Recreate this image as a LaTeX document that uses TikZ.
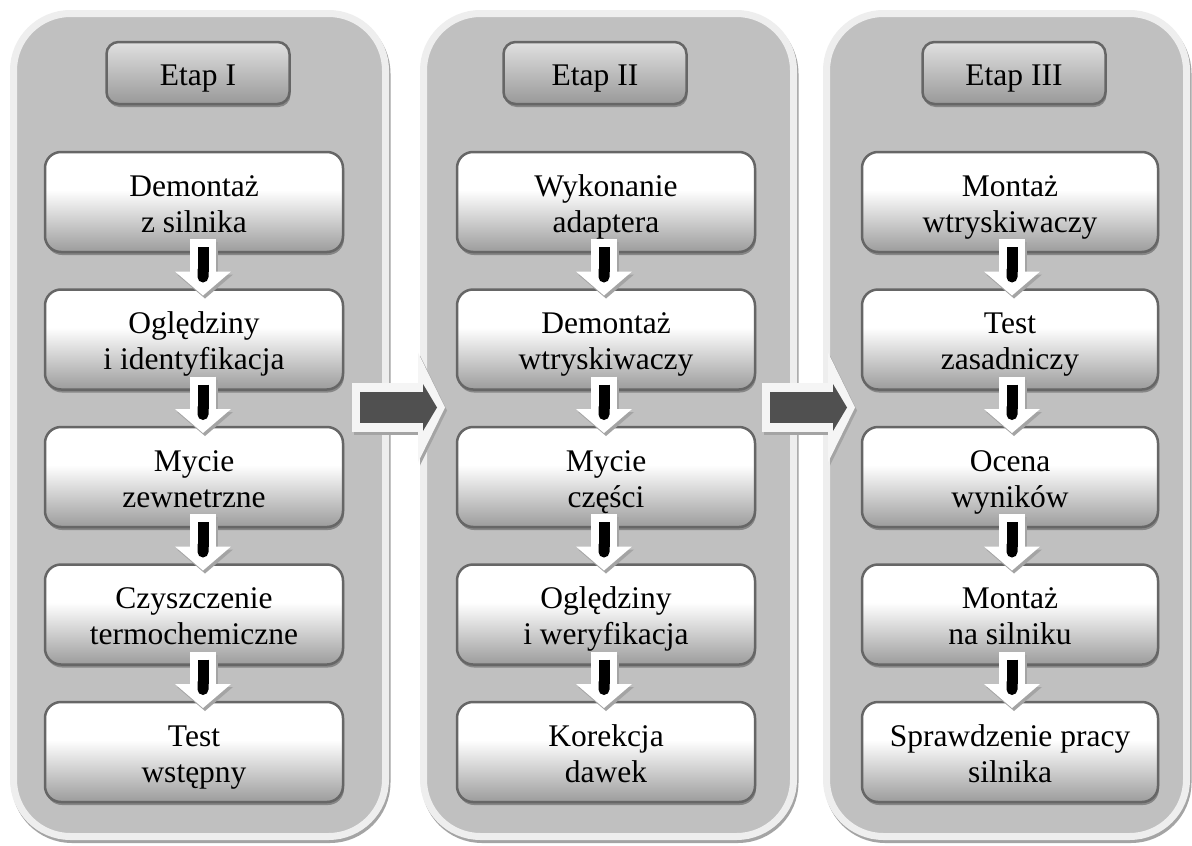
\documentclass[tikz,border=0pt]{standalone}
\usepackage{fontspec}
\setmainfont{Liberation Serif}
\usetikzlibrary{arrows.meta,shadows,calc}
\definecolor{panelc}{HTML}{C0C0C0}
\definecolor{rimc}{HTML}{EEEEEE}
\definecolor{shadc}{HTML}{A4A4A4}
\definecolor{boxbot}{HTML}{9C9C9C}
\definecolor{boxedge}{HTML}{666666}
\definecolor{hdtop}{HTML}{E0E0E0}
\definecolor{hdbot}{HTML}{999999}
\definecolor{arrdark}{HTML}{505050}
\pgfdeclareverticalshading{boxshade}{100bp}{color(0bp)=(boxbot); color(25bp)=(boxbot); color(56bp)=(white); color(100bp)=(white)}
\pgfdeclareverticalshading{hdshade}{100bp}{color(0bp)=(hdbot); color(25bp)=(hdbot); color(75bp)=(hdtop); color(100bp)=(hdtop)}
\newcommand\twol[2]{\rule{0pt}{32pt}#1\\#2\rule[-8pt]{0pt}{8pt}}
\newcommand\hdt[1]{\rule{0pt}{31pt}#1\rule[-7pt]{0pt}{7pt}}
\newcommand\downarr[3]{%
  \draw[downshadow] ($(#1.south)+(#3+2,-10)$) -- ($(#2.north)+(#3+2,9)$);
  \draw[downwhite] ($(#1.south)+(#3,-13)$) -- ($(#2.north)+(#3,6)$);
  \draw[downbar] ($(#1.south)+(#3,-5)$) -- ($(#2.north)+(#3,-7)$);
}
\begin{document}
\begin{tikzpicture}[x=1pt,y=-1pt,font=\fontsize{31.5}{36}\selectfont,
  panel/.style={rectangle, rounded corners=57pt, draw=rimc, line width=7pt, fill=panelc,
    outer sep=0pt, inner sep=0pt,
    preaction={draw=shadc, line width=7pt, transform canvas={xshift=1.5pt,yshift=-3pt}}},
  stepbox/.style={rectangle, rounded corners=16pt, draw=boxedge, line width=2.5pt,
    shading=boxshade, minimum width=298pt, minimum height=100pt, inner sep=0pt,
    outer sep=0pt, align=center,
    drop shadow={shadow xshift=1pt, shadow yshift=-3pt, fill=black, opacity=0.3}},
  header/.style={rectangle, rounded corners=12pt, draw=boxedge, line width=2.5pt,
    shading=hdshade, minimum width=183pt, minimum height=62pt, inner sep=0pt,
    outer sep=0pt,
    drop shadow={shadow xshift=1pt, shadow yshift=-3pt, fill=black, opacity=0.3}},
  downshadow/.style={draw=shadc, line width=26pt, -{Triangle[width=56pt,length=24pt,line width=0pt]}},
  downwhite/.style={draw=white, line width=26pt, -{Triangle[width=56pt,length=24pt,line width=0pt]}},
  downbar/.style={draw=black, line width=11pt, -{Round Cap}},
  bigshadow/.style={draw=shadc, line width=49pt, -{Triangle[width=110pt,length=27pt,line width=0pt]}},
  bigwhite/.style={draw=white!96!black, line width=49pt, -{Triangle[width=110pt,length=27pt,line width=0pt]}},
  bigdark/.style={draw=arrdark, line width=31pt, -{Triangle[width=47pt,length=14pt,line width=0pt]}}
]
\fill[white] (0,0) rectangle (1192,846);
\useasboundingbox (0,0) rectangle (1192,846);

% panels
\node[panel, minimum width=372pt, minimum height=823pt] (p1) at (199.5,425) {};
\node[panel, minimum width=370pt, minimum height=823pt] (p2) at (608.5,425) {};
\node[panel, minimum width=360pt, minimum height=823pt] (p3) at (1006.5,425) {};

% headers
\node[header] (h1) at (198,73) {\hdt{Etap I}};
\node[header] (h2) at (595,73) {\hdt{Etap II}};
\node[header] (h3) at (1014,73) {\hdt{Etap III}};

% panel 1
\node[stepbox] (a1) at (194,202)   {\twol{Demontaż}{z silnika}};
\node[stepbox] (a2) at (194,339.5) {\twol{Oględziny}{i identyfikacja}};
\node[stepbox] (a3) at (194,477)   {\twol{Mycie}{zewnetrzne}};
\node[stepbox] (a4) at (194,614.5) {\twol{Czyszczenie}{termochemiczne}};
\node[stepbox] (a5) at (194,752)   {\twol{Test}{wstępny}};

% panel 2
\node[stepbox] (b1) at (606,202)   {\twol{Wykonanie}{adaptera}};
\node[stepbox] (b2) at (606,339.5) {\twol{Demontaż}{wtryskiwaczy}};
\node[stepbox] (b3) at (606,477)   {\twol{Mycie}{części}};
\node[stepbox] (b4) at (606,614.5) {\twol{Oględziny}{i weryfikacja}};
\node[stepbox] (b5) at (606,752)   {\twol{Korekcja}{dawek}};

% panel 3
\node[stepbox, minimum width=296pt] (c1) at (1010,202)   {\twol{Montaż}{wtryskiwaczy}};
\node[stepbox, minimum width=296pt] (c2) at (1010,339.5) {\twol{Test}{zasadniczy}};
\node[stepbox, minimum width=296pt] (c3) at (1010,477)   {\twol{Ocena}{wyników}};
\node[stepbox, minimum width=296pt] (c4) at (1010,614.5) {\twol{Montaż}{na silniku}};
\node[stepbox, minimum width=296pt] (c5) at (1010,752)   {\twol{Sprawdzenie pracy}{silnika}};

% down arrows
\downarr{a1}{a2}{9}\downarr{a2}{a3}{9}\downarr{a3}{a4}{9}\downarr{a4}{a5}{9}
\downarr{b1}{b2}{-2}\downarr{b2}{b3}{-2}\downarr{b3}{b4}{-2}\downarr{b4}{b5}{-2}
\downarr{c1}{c2}{2}\downarr{c2}{c3}{2}\downarr{c3}{c4}{2}\downarr{c4}{c5}{2}

% big arrows between stages
\coordinate (r1s) at (352,407.5); \coordinate (r1e) at (445,407.5);
\coordinate (r1is) at (360,407.5); \coordinate (r1ie) at (437,407.5);
\coordinate (r2s) at (762,407.5); \coordinate (r2e) at (855,407.5);
\coordinate (r2is) at (770,407.5); \coordinate (r2ie) at (847,407.5);
\draw[bigshadow] ($(r1s)+(2,3)$) -- ($(r1e)+(2,3)$);
\draw[bigwhite] (r1s) -- (r1e);
\draw[bigdark] (r1is) -- (r1ie);
\draw[bigshadow] ($(r2s)+(2,3)$) -- ($(r2e)+(2,3)$);
\draw[bigwhite] (r2s) -- (r2e);
\draw[bigdark] (r2is) -- (r2ie);
\end{tikzpicture}
\end{document}
